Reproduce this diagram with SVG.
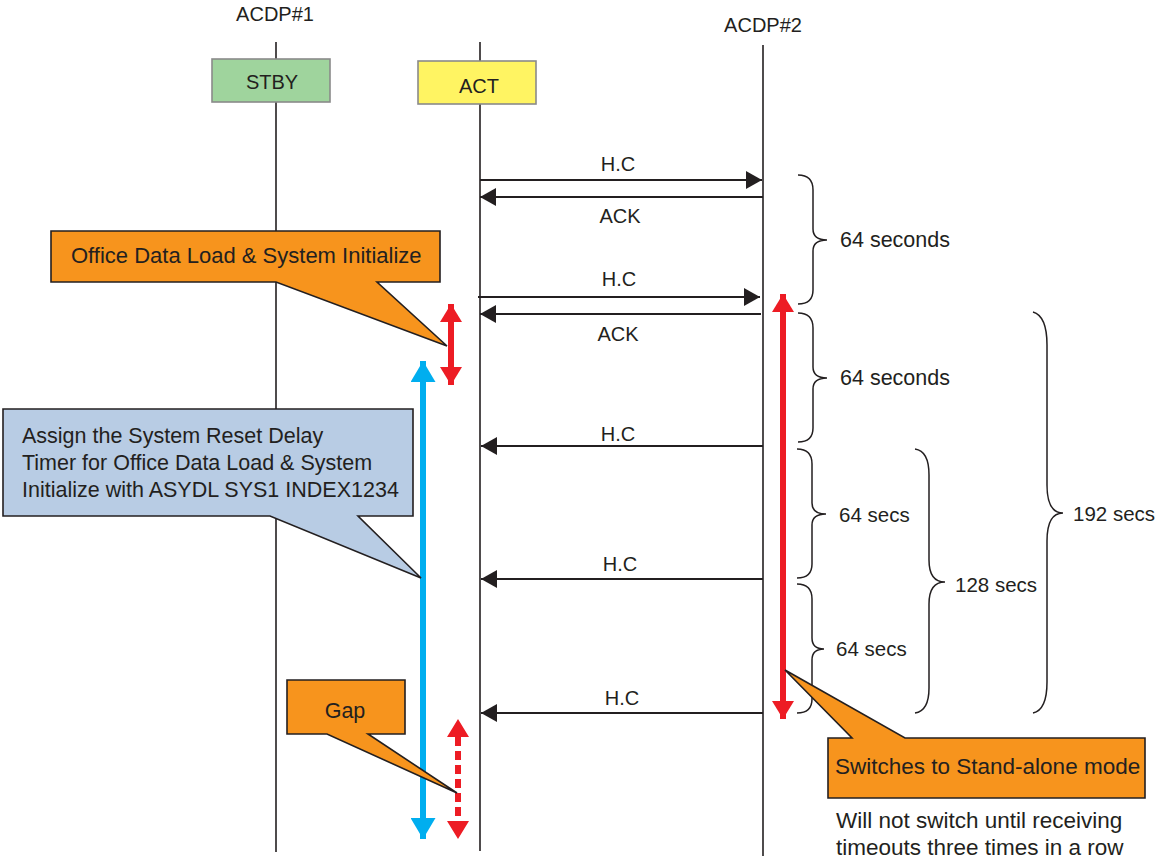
<svg xmlns="http://www.w3.org/2000/svg" width="1156" height="861" viewBox="0 0 1156 861">
  <style>
    text { font-family: "Liberation Sans", Arial, sans-serif; fill: #231f20; }
    .lbl { font-size: 20px; text-anchor: middle; }
    .msg { font-size: 20px; text-anchor: middle; }
    .dur { font-size: 20.5px; }
    .durw { font-size: 21.5px; }
    .note { font-size: 21.5px; }
    .big { font-size: 22.5px; }
    .life { stroke: #231f20; stroke-width: 1.6; fill: none; }
    .arr { stroke: #231f20; stroke-width: 2; fill: none; marker-end: url(#ah); }
    .brace { stroke: #231f20; stroke-width: 1.5; fill: none; }
    .callout { stroke: #231f20; stroke-width: 1.6; stroke-linejoin: miter; }
    .orange { fill: #f7941d; }
    .blue { fill: #b8cce4; }
    .red { stroke: #ed1c24; stroke-width: 6; fill: none; marker-start: url(#rh); marker-end: url(#rh); }
    .cyan { stroke: #00aeef; stroke-width: 6; fill: none; marker-start: url(#bh); marker-end: url(#bh); }
  </style>
  <defs>
    <marker id="ah" viewBox="0 0 16 18" refX="16" refY="9" markerWidth="16" markerHeight="18" orient="auto" markerUnits="userSpaceOnUse">
      <path d="M0 0 L16 9 L0 18 Z" fill="#231f20"/>
    </marker>
    <marker id="rh" viewBox="0 0 18 22" refX="18" refY="11" markerWidth="18" markerHeight="22" orient="auto-start-reverse" markerUnits="userSpaceOnUse">
      <path d="M0 0 L18 11 L0 22 Z" fill="#ed1c24"/>
    </marker>
    <marker id="bh" viewBox="0 0 21 25" refX="21" refY="12.5" markerWidth="21" markerHeight="25" orient="auto-start-reverse" markerUnits="userSpaceOnUse">
      <path d="M0 0 L21 12.5 L0 25 Z" fill="#00aeef"/>
    </marker>
  </defs>

  <!-- lifelines -->
  <g id="lifelines">
    <line class="life" x1="276" y1="42" x2="276" y2="852"/>
    <line class="life" x1="480" y1="42" x2="480" y2="851"/>
    <line class="life" x1="763" y1="45" x2="763" y2="856"/>
  </g>

  <!-- lifeline headers -->
  <g id="acdp1">
    <text class="lbl" x="275" y="21">ACDP#1</text>
  </g>
  <g id="acdp2">
    <text class="lbl" x="763" y="32">ACDP#2</text>
  </g>
  <g id="stby">
    <rect x="212" y="59" width="118" height="43" fill="#9fd49d" stroke="#8a8a8a" stroke-width="1.6"/>
    <text class="lbl" x="272" y="89">STBY</text>
  </g>
  <g id="act">
    <rect x="418" y="61" width="118" height="43" fill="#fff462" stroke="#8a8a8a" stroke-width="1.6"/>
    <text class="lbl" x="479" y="93">ACT</text>
  </g>

  <!-- messages -->
  <g id="connectors">
    <line class="arr" x1="480" y1="180" x2="762" y2="180"/>
    <line class="arr" x1="763" y1="197" x2="480" y2="197"/>
    <line class="arr" x1="478" y1="297" x2="760" y2="297"/>
    <line class="arr" x1="761" y1="314" x2="480" y2="314"/>
    <line class="arr" x1="763" y1="446" x2="481" y2="446"/>
    <line class="arr" x1="763" y1="579" x2="481" y2="579"/>
    <line class="arr" x1="763" y1="713" x2="481" y2="713"/>
  </g>
  <g id="message-labels">
    <text class="msg" x="618" y="171">H.C</text>
    <text class="msg" x="620" y="223">ACK</text>
    <text class="msg" x="619" y="286">H.C</text>
    <text class="msg" x="618" y="341">ACK</text>
    <text class="msg" x="618" y="441">H.C</text>
    <text class="msg" x="620" y="571">H.C</text>
    <text class="msg" x="622" y="705">H.C</text>
  </g>

  <!-- timing braces -->
  <g id="brace-64a">
    <path class="brace" d="M798 175 Q813 175 813 190 L813 229 Q813 240 827 240 Q813 240 813 251 L813 290 Q813 304 798 304"/>
    <text class="durw" x="840" y="247">64 seconds</text>
  </g>
  <g id="brace-64b">
    <path class="brace" d="M798 313 Q813 313 813 328 L813 367 Q813 378 827 378 Q813 378 813 389 L813 428 Q813 442 798 442"/>
    <text class="durw" x="840" y="385">64 seconds</text>
  </g>
  <g id="brace-64c">
    <path class="brace" d="M797 449 Q812 449 812 464 L812 503 Q812 514 826 514 Q812 514 812 525 L812 564 Q812 578 797 578"/>
    <text class="dur" x="839" y="522">64 secs</text>
  </g>
  <g id="brace-64d">
    <path class="brace" d="M797 584 Q812 584 812 599 L812 638 Q812 649 824 649 Q812 649 812 660 L812 699 Q812 713 797 713"/>
    <text class="dur" x="836" y="656">64 secs</text>
  </g>
  <g id="brace-128">
    <path class="brace" d="M915 449 Q929 451 929 475 L929 560 Q929 582 945 582 Q929 582 929 604 L929 688 Q929 711 915 713"/>
    <text class="dur" x="955" y="592">128 secs</text>
  </g>
  <g id="brace-192">
    <path class="brace" d="M1033 312 Q1047 316 1047 345 L1047 485 Q1047 513 1063 513 Q1047 513 1047 541 L1047 682 Q1047 710 1033 713"/>
    <text class="dur" x="1073" y="521">192 secs</text>
  </g>

  <!-- interval arrows -->
  <g id="span-arrows">
    <line class="cyan" x1="423" y1="361" x2="423" y2="839"/>
    <line class="red" x1="451" y1="304" x2="451" y2="385"/>
    <line class="red" x1="783" y1="294" x2="783" y2="719"/>
    <line stroke="#ed1c24" stroke-width="6" stroke-dasharray="9 5" x1="458" y1="737" x2="458" y2="821"/>
    <path d="M447 737 L458 719 L469 737 Z M447 821 L458 839 L469 821 Z" fill="#ed1c24"/>
  </g>

  <!-- callouts -->
  <g id="callout-init">
    <path class="callout orange" d="M51 231 L440 231 L440 282 L377 282 L447 346 L276 282 L51 282 Z"/>
    <text class="note" x="71" y="263" style="font-size:22px">Office Data Load &amp; System Initialize</text>
  </g>
  <g id="callout-timer">
    <path class="callout blue" d="M3 409 L413 409 L413 516 L358 516 L421 578 L270 516 L3 516 Z"/>
    <text class="note" x="22" y="443">Assign the System Reset Delay</text>
    <text class="note" x="22" y="470">Timer for Office Data Load &amp; System</text>
    <text class="note" x="22" y="497">Initialize with ASYDL SYS1 INDEX1234</text>
  </g>
  <g id="callout-gap">
    <path class="callout orange" d="M287 680 L405 680 L405 734 L368 734 L457 793 L327 734 L287 734 Z"/>
    <text class="note" x="345" y="718" text-anchor="middle">Gap</text>
  </g>
  <g id="callout-standalone">
    <path class="callout orange" d="M828 738 L852 738 L785 670 L905 738 L1145 738 L1145 798 L828 798 Z"/>
    <text class="big" x="835" y="774">Switches to Stand-alone mode</text>
  </g>
  <g id="standalone-note">
    <text class="big" x="836" y="828">Will not switch until receiving</text>
    <text class="big" x="836" y="855">timeouts three times in a row</text>
  </g>
</svg>
